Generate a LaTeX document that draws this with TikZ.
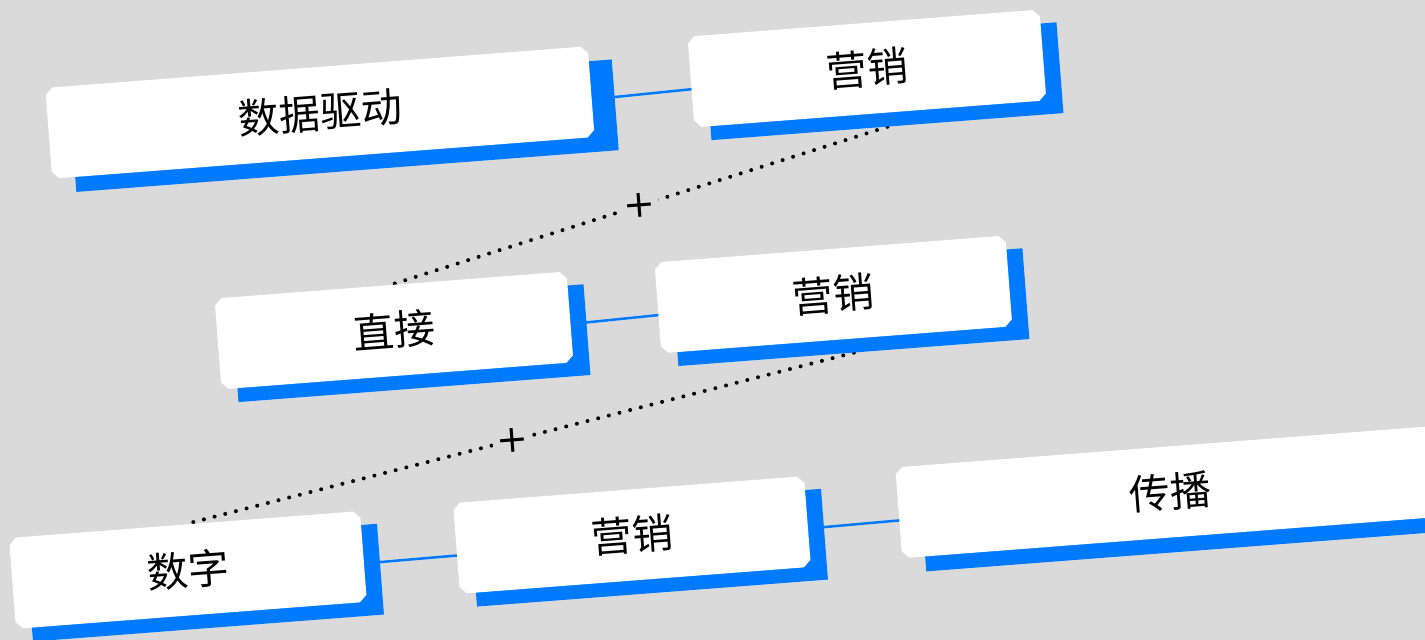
\documentclass[tikz,border=0pt]{standalone}
\usepackage{fontspec}
\setmainfont{Noto Sans CJK SC}
\newfontfamily\plusfont{DejaVu Sans}
\usetikzlibrary{shapes.misc,calc}
\definecolor{bgc}{RGB}{218,218,218}
\definecolor{blu}{RGB}{0,123,255}
\pgfdeclarelayer{bottom}
\pgfdeclarelayer{back}
\pgfsetlayers{bottom,back,main}
\begin{document}
\begin{tikzpicture}[x=1pt,y=-1pt,
  box/.style={chamfered rectangle, chamfered rectangle xsep=3.5pt, chamfered rectangle ysep=3.5pt,
    fill=white, inner sep=0pt, minimum height=91pt, font=\fontsize{41pt}{49pt}\selectfont},
  shad/.style={chamfered rectangle, chamfered rectangle xsep=3.5pt, chamfered rectangle ysep=3.5pt,
    fill=blu, inner sep=0pt, minimum height=91pt},
  link/.style={blu, line width=2.5pt},
  dots/.style={line width=4pt, dash pattern=on 0pt off 11pt, line cap=round},
  plus/.style={fill=bgc, font=\plusfont\fontsize{38pt}{44pt}\selectfont, inner sep=4pt}]
\begin{pgfonlayer}{bottom}
\fill[bgc] (0,0) rectangle (1425,640);
\end{pgfonlayer}
\useasboundingbox (0,0) rectangle (1425,640);
\begin{scope}[rotate=4.4, transform shape]
% row 1
\node[shad, minimum width=544pt] (As) at (333.4,151.7) {};
\node[box, minimum width=544pt] (A) at (310.4,136.7) {数据驱动};
\node[shad, minimum width=353pt] (Bs) at (875.2,148.8) {};
\node[box, minimum width=353pt] (B) at (859.2,134.8) {营销};
% row 2
\node[shad, minimum width=353pt] (Cs) at (383.5,373.7) {};
\node[box, minimum width=353pt] (C) at (367.5,359.7) {直接};
\node[shad, minimum width=352pt] (Ds) at (824.4,371.5) {};
\node[box, minimum width=352pt] (D) at (808.4,357.5) {营销};
% row 3
\node[shad, minimum width=352pt] (Es) at (159.7,596.7) {};
\node[box, minimum width=352pt] (E) at (143.7,582.7) {数字};
\node[shad, minimum width=352pt] (Fs) at (605.1,595.9) {};
\node[box, minimum width=352pt] (F) at (589.1,581.9) {营销};
\node[shad, minimum width=544pt] (Gs) at (1151.8,595.3) {};
\node[box, minimum width=544pt] (G) at (1128.8,580.3) {传播};
\begin{pgfonlayer}{back}
\draw[link] ($(A.east)!0.5!(As.east)$) -- ($(B.west)!0.5!(Bs.west)$);
\draw[link] ($(C.east)!0.5!(Cs.east)$) -- ($(D.west)!0.5!(Ds.west)$);
\draw[link] ($(E.east)!0.5!(Es.east)$) -- ($(F.west)!0.5!(Fs.west)$);
\draw[link] ($(F.east)!0.5!(Fs.east)$) -- ($(G.west)!0.5!(Gs.west)$);
\draw[dots] (Bs.south) -- node[plus, pos=0.5] (p1) {+} (C.north);
\draw[dots] (Ds.south) -- node[plus, pos=0.51] (p2) {+} (E.north);
\end{pgfonlayer}
\end{scope}
\end{tikzpicture}
\end{document}
